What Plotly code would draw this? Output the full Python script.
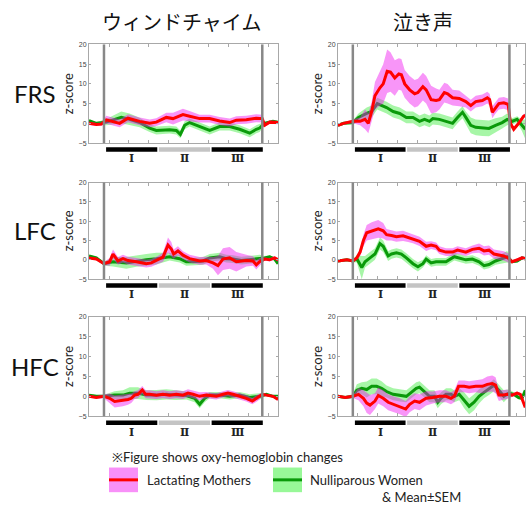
import plotly.graph_objects as go

# ---------------- categories / labels ----------------
col_titles = ["ウィンドチャイム", "泣き声"]
row_labels = ["FRS", "LFC", "HFC"]
phase_labels = ["Ⅰ", "Ⅱ", "Ⅲ"]
phase_start = [0, 10, 20]
phase_end = [10, 20, 30]
stim_on = 0
stim_off = 30
yticks = [-5, 0, 5, 10, 15, 20]
legend_note = "※Figure shows oxy-hemoglobin changes"
legend_red = "Lactating Mothers"
legend_green = "Nulliparous Women"
legend_sem = "& Mean±SEM"

# ---------------- data (time in s, z-score, SEM) ----------------
# FRS - wind chime
frs_wind_red_t = [-2.84, -1.45, -0.5, 0.44, 2.97, 4.55, 6.76, 8.65, 9.92, 11.81, 13.08, 14.97, 16.23, 18.13, 20.03, 21.92, 23.82, 25.08, 26.97, 28.87, 30.0, 30.45, 31.4, 32.98]
frs_wind_red_y = [0.0, -0.3, -0.2, 0.9, 0.0, 1.3, 0.5, 0.0, 0.3, 1.5, 1.2, 2.2, 1.8, 1.2, 1.2, 0.6, 0.2, 0.8, 0.9, 1.3, 1.2, -0.5, 0.3, 0.2]
frs_wind_red_s = [0.4, 0.4, 0.4, 1.0, 1.0, 1.0, 1.0, 1.0, 1.0, 1.2, 1.5, 1.5, 1.3, 1.0, 1.0, 1.0, 1.0, 1.0, 1.0, 1.0, 1.0, 0.4, 0.4, 0.4]
frs_wind_grn_t = [-2.84, -1.45, 0.44, 3.28, 4.86, 6.76, 8.65, 9.92, 12.44, 13.71, 14.47, 15.29, 16.23, 18.13, 20.03, 21.92, 23.82, 25.71, 27.61, 28.87, 29.5, 30.45, 32.03, 32.98]
frs_wind_grn_y = [0.7, 0.0, 0.3, 1.5, 1.0, 0.2, -1.2, -1.8, -1.6, -1.8, -2.8, -0.5, 0.2, -0.8, -1.8, -0.8, -0.8, -1.5, -2.5, -1.5, -1.2, 0.0, 0.5, 0.3]
frs_wind_grn_s = [0.3, 0.3, 0.8, 1.5, 1.5, 1.2, 1.0, 1.0, 1.0, 1.0, 1.0, 1.0, 1.0, 1.0, 1.0, 1.0, 1.0, 1.0, 1.0, 1.0, 1.0, 0.4, 0.3, 0.3]

# FRS - crying
frs_cry_red_t = [-2.85, -1.77, 0, 1.39, 2.34, 2.97, 3.61, 4.24, 5.19, 5.82, 6.58, 7.22, 8.04, 8.8, 9.3, 9.94, 10.89, 11.84, 12.47, 13.42, 14.05, 15.0, 15.95, 16.58, 17.53, 18.16, 19.11, 20.38, 21.65, 22.59, 23.54, 24.81, 25.76, 26.2, 26.71, 27.34, 27.97, 28.92, 29.75, 30.19, 30.82, 31.77, 32.72, 33.04]
frs_cry_red_y = [-0.5, 0, 0.5, 0.5, 1.0, 0.0, 3, 7, 9, 10, 13.2, 13, 11.5, 12.5, 12.3, 10, 8.5, 7.5, 7.8, 9.3, 8.5, 6, 5.8, 6, 7.8, 7.5, 6.5, 6.3, 5.5, 4.5, 5.5, 5.8, 6.5, 6, 2.8, 4, 5, 5.2, 4.8, 0, -1.5, 0, 1.8, 2]
frs_cry_red_s = [0.3, 0.3, 0.5, 1.0, 2.5, 2.5, 2.5, 3.5, 4.5, 5.0, 5.5, 5.0, 4.5, 4.0, 4.0, 3.5, 3.5, 3.5, 3.5, 3.5, 3.5, 3.5, 3.0, 2.5, 2.5, 2.5, 2.0, 2.0, 1.5, 1.5, 1.5, 1.5, 1.5, 1.5, 1.5, 1.5, 1.5, 1.5, 1.5, 0.5, 0.5, 0.5, 0.5, 0.5]
frs_cry_grn_t = [-2.85, -1.77, 0, 1.08, 2.66, 3.61, 4.68, 5.51, 6.46, 7.72, 8.99, 10.25, 11.52, 12.78, 13.73, 14.68, 15.32, 16.58, 17.85, 19.11, 20.06, 21.01, 21.65, 22.59, 23.54, 24.81, 26.08, 27.34, 28.61, 29.56, 30.51, 31.46, 32.41, 33.04]
frs_cry_grn_y = [-0.5, 0, 0.2, 1.5, 2.5, 3, 5, 4.5, 4, 3, 2.5, 1.5, 1.5, 0.5, 1, 0.5, 1.2, 1, 0.5, 0, 1.5, 2.8, 1.5, -0.5, -1, -1.2, -1.3, -0.5, 0.2, 1, 0.5, 1, -0.5, -1.5]
frs_cry_grn_s = [0.3, 0.3, 0.5, 1.0, 1.5, 1.5, 1.5, 1.5, 1.5, 1.5, 1.5, 1.5, 1.5, 1.5, 1.5, 1.5, 1.5, 1.5, 1.5, 1.5, 1.5, 1.5, 1.5, 2.0, 2.0, 2.0, 2.0, 1.8, 1.5, 1.5, 0.8, 0.8, 1.5, 2.5]

# LFC - wind chime
lfc_wind_red_t = [-2.84, -1.45, 0, 1.07, 1.71, 2.65, 3.6, 4.55, 6.13, 8.02, 8.97, 10.23, 11.18, 12.13, 12.76, 13.2, 14.02, 14.97, 16.23, 18.13, 19.39, 20.66, 21.6, 22.55, 23.82, 25.08, 26.97, 28.24, 28.87, 29.5, 30.45, 31.4, 32.34, 32.98]
lfc_wind_red_y = [0.5, 0.2, -1.0, -0.5, 1.5, -0.3, 0.3, -0.2, -0.5, -1, -0.8, 0, 0.7, 3.8, 2.8, 1.5, 2.3, 1.2, 0.3, -0.3, -0.2, -0.8, -1.5, 0.2, 0.5, -0.5, -0.2, -0.3, -1.3, -0.5, 0.2, 0, 0.5, 0]
lfc_wind_red_s = [0.3, 0.3, 0.4, 1.0, 1.2, 1.0, 1.0, 1.0, 1.0, 1.0, 1.0, 1.0, 1.2, 2.0, 1.8, 1.2, 1.2, 1.0, 1.0, 1.0, 1.0, 1.5, 2.5, 2.8, 2.8, 2.5, 1.5, 1.2, 1.2, 1.0, 0.4, 0.4, 0.4, 0.4]
lfc_wind_grn_t = [-2.84, -1.45, 0, 1.71, 4.23, 6.13, 8.02, 9.92, 12.44, 14.34, 15.6, 16.87, 18.76, 20.03, 21.92, 23.18, 24.45, 26.03, 27.61, 29.5, 30.45, 31.4, 32.34, 32.98]
lfc_wind_grn_y = [1, 0.5, -1, -0.5, -0.8, -0.3, 0, 0.3, 0.8, 0.3, -0.5, -0.5, -0.3, 0.5, 0.8, 0.3, 0.2, -0.2, 0, 0.3, 0.5, 0.8, 0.2, -1]
lfc_wind_grn_s = [0.3, 0.3, 0.5, 1.2, 1.5, 1.5, 1.5, 1.5, 1.0, 1.0, 1.0, 1.0, 1.0, 1.0, 1.0, 1.0, 1.0, 1.0, 1.0, 1.0, 0.5, 0.4, 0.4, 0.4]

# LFC - crying
lfc_cry_red_t = [-2.85, -1.14, 0, 0.76, 1.39, 2.03, 2.66, 3.61, 4.87, 5.82, 6.46, 7.41, 8.35, 9.62, 10.57, 11.52, 12.78, 14.05, 15.0, 15.95, 16.58, 17.85, 19.11, 20.06, 21.65, 22.91, 24.18, 25.13, 26.08, 27.03, 27.97, 28.92, 29.75, 30.51, 31.46, 32.41, 33.04]
lfc_cry_red_y = [-0.3, 0, -0.3, 0.5, 2, 5, 7, 7.5, 8, 7.5, 6.5, 6.3, 6, 6.2, 5.8, 5.5, 4.8, 3.5, 3.8, 3.5, 2.5, 2, 2, 2.5, 2, 2.7, 3, 2.3, 2.5, 1.5, 1.2, 1, 0.5, -0.5, 0, 0.5, 0.3]
lfc_cry_red_s = [0.3, 0.3, 0.3, 0.5, 1.0, 1.5, 2.0, 2.2, 2.3, 2.0, 1.5, 1.3, 1.3, 1.3, 1.2, 1.2, 1.2, 1.2, 1.0, 1.0, 1.0, 1.0, 1.0, 1.0, 1.0, 1.0, 1.2, 1.2, 1.2, 1.2, 1.2, 1.2, 1.2, 0.4, 0.4, 0.4, 0.4]
lfc_cry_grn_t = [-2.85, -1.14, 0, 0.76, 1.71, 2.34, 3.29, 4.24, 5.19, 5.82, 6.77, 7.41, 8.35, 9.3, 10.25, 11.52, 12.47, 13.42, 14.05, 15.0, 15.95, 17.85, 19.43, 20.38, 21.65, 22.91, 24.18, 25.13, 26.08, 27.34, 28.61, 29.56, 30.51, 31.46, 32.41, 33.04]
lfc_cry_grn_y = [-0.3, 0, -0.3, 0.3, -2, -0.5, 0.5, 1.5, 4.2, 3.5, 1, 1.5, 1.8, 1.5, 0.5, -1, -1.8, -1, 0.2, -0.8, -0.5, -0.5, 0.8, 0.5, 0, 0.2, -0.5, -1.5, -1.2, -0.3, 0.3, 0.8, -0.5, -0.3, 0.5, 0.3]
lfc_cry_grn_s = [0.3, 0.3, 0.3, 1.0, 3.0, 1.5, 1.5, 1.5, 1.5, 1.5, 1.3, 1.2, 1.2, 1.2, 1.2, 1.2, 1.2, 1.0, 1.0, 1.0, 1.0, 1.0, 1.0, 1.0, 1.0, 1.0, 1.0, 1.0, 1.0, 1.0, 1.2, 1.5, 0.4, 0.4, 0.4, 0.4]

# HFC - wind chime
hfc_wind_red_t = [-2.84, -1.45, 0, 1.07, 2.02, 3.6, 4.55, 5.18, 5.81, 6.44, 7.26, 7.9, 8.65, 9.92, 11.18, 12.44, 13.71, 14.97, 15.92, 16.87, 18.13, 19.39, 21.29, 22.55, 23.5, 24.45, 25.71, 26.97, 28.11, 29.19, 30.0, 30.76, 32.03, 32.98]
hfc_wind_red_y = [0, -0.3, 0, -0.5, -1.3, -1, -0.8, -0.5, 0.3, 0.5, 1.6, 0.5, 0.5, 0.3, 0.5, 0.3, 0.5, 0.3, 0.8, 0.5, 0, 0.3, 0, 0.5, 0.8, 0.5, 0, -0.5, -1.2, -0.3, 0.5, 0.3, 0, -0.8]
hfc_wind_red_s = [0.3, 0.3, 0.5, 1.2, 1.5, 1.5, 1.3, 1.2, 1.0, 1.0, 1.0, 1.0, 1.0, 1.0, 1.0, 1.0, 1.0, 1.0, 1.0, 1.0, 1.0, 0.8, 0.8, 0.8, 0.8, 0.8, 0.8, 0.8, 0.8, 0.8, 0.4, 0.3, 0.3, 0.3]
hfc_wind_grn_t = [-2.84, -1.45, 0, 2.02, 3.6, 4.86, 6.44, 8.02, 9.92, 11.81, 13.71, 15.6, 17.18, 18.13, 19.08, 20.03, 21.92, 23.82, 25.71, 27.61, 29.5, 30.76, 32.03, 32.98]
hfc_wind_grn_y = [0.3, 0, 0, 0.3, 0.3, 0.8, 0.8, 0.3, 0.3, 0.5, 0.3, 0.2, -0.5, -2, -0.5, 0.3, 0.3, 0, 0.3, -0.3, 0, 0.5, 0, 0]
hfc_wind_grn_s = [0.3, 0.3, 0.4, 1.0, 1.2, 1.5, 1.5, 1.2, 1.3, 1.3, 1.2, 1.0, 1.0, 1.0, 1.0, 0.8, 0.8, 0.8, 0.8, 0.8, 0.8, 0.3, 0.3, 0.3]

# HFC - crying
hfc_cry_red_t = [-2.85, -1.46, 0, 1.08, 2.03, 2.66, 3.29, 4.24, 4.87, 5.82, 6.77, 7.72, 8.99, 10.13, 10.89, 11.84, 12.78, 14.05, 15.32, 16.58, 17.85, 18.8, 19.43, 20.25, 21.33, 22.28, 23.54, 24.81, 25.76, 26.71, 27.34, 27.97, 28.61, 29.56, 30.51, 31.46, 32.09, 32.72, 33.04]
hfc_cry_red_y = [0, -0.3, 0, 0.5, -0.5, -1.7, -2.2, -1.2, 0.2, -0.5, -1.5, -2, -2.5, -3.2, -2, -1.2, -1.5, -0.5, -0.3, 0, 0, -0.5, 0, 2.5, 2.5, 2.3, 2.5, 2.5, 3, 3.2, 2.8, 0.3, 0.3, 0.5, 0.3, 0.8, 0.5, -1.5, -2.8]
hfc_cry_red_s = [0.3, 0.3, 0.4, 1.5, 2.0, 2.5, 2.5, 2.0, 2.0, 2.0, 2.0, 2.0, 2.0, 2.0, 2.0, 2.0, 2.0, 1.8, 1.5, 1.5, 1.5, 1.5, 1.5, 1.5, 1.5, 1.5, 1.5, 1.8, 2.0, 2.0, 2.0, 1.5, 1.2, 1.2, 0.4, 0.4, 0.4, 0.4, 0.4]
hfc_cry_grn_t = [-2.85, -1.46, 0, 0.76, 1.71, 2.66, 3.61, 4.56, 5.51, 6.46, 7.72, 8.99, 10.25, 11.2, 12.15, 12.78, 13.73, 14.68, 15.63, 16.27, 16.9, 17.85, 18.8, 19.43, 20.38, 21.33, 22.28, 23.23, 24.18, 25.13, 26.08, 27.03, 27.97, 28.92, 29.87, 30.82, 31.77, 32.41, 33.04]
hfc_cry_grn_y = [0, -0.3, 0, 1.5, 2, 1.7, 2.5, 2.5, 2, 1.2, 0.5, 0.2, 0, 1, 2, 2.3, 1.2, 0, 0, -1.5, -0.5, 0.5, 0.5, 0, 0.5, -1, -2.5, -1.5, 0, 1, 1.8, 2.8, 1.5, 0, 0.8, 0.5, -0.3, -0.5, 1.5]
hfc_cry_grn_s = [0.3, 0.3, 0.5, 1.5, 1.5, 2.0, 2.0, 2.0, 1.8, 1.5, 1.5, 1.5, 1.5, 1.5, 1.5, 1.5, 1.5, 1.5, 1.5, 1.5, 1.5, 1.5, 1.5, 1.5, 1.5, 2.0, 2.0, 2.0, 1.8, 1.5, 1.5, 1.5, 1.5, 1.5, 1.0, 0.5, 0.5, 0.5, 0.5]

panels = [
    (0, 0, frs_wind_red_t, frs_wind_red_y, frs_wind_red_s, frs_wind_grn_t, frs_wind_grn_y, frs_wind_grn_s),
    (0, 1, frs_cry_red_t, frs_cry_red_y, frs_cry_red_s, frs_cry_grn_t, frs_cry_grn_y, frs_cry_grn_s),
    (1, 0, lfc_wind_red_t, lfc_wind_red_y, lfc_wind_red_s, lfc_wind_grn_t, lfc_wind_grn_y, lfc_wind_grn_s),
    (1, 1, lfc_cry_red_t, lfc_cry_red_y, lfc_cry_red_s, lfc_cry_grn_t, lfc_cry_grn_y, lfc_cry_grn_s),
    (2, 0, hfc_wind_red_t, hfc_wind_red_y, hfc_wind_red_s, hfc_wind_grn_t, hfc_wind_grn_y, hfc_wind_grn_s),
    (2, 1, hfc_cry_red_t, hfc_cry_red_y, hfc_cry_red_s, hfc_cry_grn_t, hfc_cry_grn_y, hfc_cry_grn_s),
]

# ---------------- styling / layout ----------------
W, H = 527, 508
RED = "#ff0000"
GREEN = "#0a9a0a"
PINK_FILL = "rgba(240,20,240,0.45)"
GREEN_FILL = "rgba(60,235,60,0.45)"
AX_COLOR = "#a8a8a8"
FONT_LAT = "Lato, 'Noto Sans', 'Noto Sans CJK JP', sans-serif"
FONT_JP = "'Noto Sans CJK JP', sans-serif"

X_DOM = [[89 / W, 278 / W], [338 / W, 525 / W]]
Y_PIX = [(41, 141), (181, 279), (317, 418)]
Y_DOM = [[1 - b / H, 1 - t / H] for t, b in Y_PIX]
XRANGE = [-2.84, 32.98]


def band(t, y, s):
    up = [a + b for a, b in zip(y, s)]
    lo = [a - b for a, b in zip(y, s)]
    return list(t) + list(t)[::-1], up + lo[::-1]


fig = go.Figure()
shapes = []
annotations = []
layout_axes = {}

for i, (r, c, rt, ry, rs, gt, gy, gs) in enumerate(panels):
    assert len(rt) == len(ry) == len(rs), (i, "red")
    assert len(gt) == len(gy) == len(gs), (i, "green")
    n = i + 1
    xa = "x" if n == 1 else f"x{n}"
    ya = "y" if n == 1 else f"y{n}"
    xk = "xaxis" if n == 1 else f"xaxis{n}"
    yk = "yaxis" if n == 1 else f"yaxis{n}"

    bx, by = band(gt, gy, gs)
    fig.add_trace(go.Scatter(x=bx, y=by, fill="toself", fillcolor=GREEN_FILL, line=dict(width=0),
                             mode="lines", hoverinfo="skip", showlegend=False, xaxis=xa, yaxis=ya))
    fig.add_trace(go.Scatter(x=gt, y=gy, mode="lines", line=dict(color=GREEN, width=3),
                             showlegend=False, xaxis=xa, yaxis=ya))
    bx, by = band(rt, ry, rs)
    fig.add_trace(go.Scatter(x=bx, y=by, fill="toself", fillcolor=PINK_FILL, line=dict(width=0),
                             mode="lines", hoverinfo="skip", showlegend=False, xaxis=xa, yaxis=ya))
    fig.add_trace(go.Scatter(x=rt, y=ry, mode="lines", line=dict(color=RED, width=3),
                             showlegend=False, xaxis=xa, yaxis=ya))

    layout_axes[xk] = dict(domain=X_DOM[c], range=XRANGE, anchor=ya, showgrid=False, zeroline=False,
                           showline=True, linecolor=AX_COLOR, linewidth=1, mirror="ticks",
                           ticks="inside", ticklen=3, tickcolor=AX_COLOR, tick0=0.95, dtick=3.79,
                           showticklabels=False, fixedrange=True)
    layout_axes[yk] = dict(domain=Y_DOM[r], range=[-5, 20], anchor=xa, showgrid=False, zeroline=False,
                           showline=True, linecolor=AX_COLOR, linewidth=1, mirror="ticks",
                           ticks="inside", ticklen=2, tickcolor=AX_COLOR, tickvals=yticks,
                           tickfont=dict(size=7, color="#444444", family="Liberation Sans"),
                           title=dict(text="z-score", font=dict(size=13, color="#222222", family=FONT_LAT),
                                      standoff=2),
                           fixedrange=True)

    # stimulus on/off lines
    for xv in (stim_on, stim_off):
        shapes.append(dict(type="line", xref=xa, yref=f"{ya} domain", x0=xv, x1=xv, y0=0, y1=1,
                           line=dict(color="#888888", width=2.5), layer="above"))

    # phase bars and numerals
    bottom = Y_DOM[r][0]
    for k, (p0, p1, lab) in enumerate(zip(phase_start, phase_end, phase_labels)):
        colr = "#c4c4c4" if k == 1 else "#000000"
        shapes.append(dict(type="line", xref=xa, yref="paper", x0=p0 + 0.4, x1=p1 + 0.1,
                           y0=bottom - 6.5 / H, y1=bottom - 6.5 / H, line=dict(color=colr, width=4.5)))
        annotations.append(dict(xref=xa, yref="paper", x=(p0 + p1) / 2 + 0.3, y=bottom - 16 / H,
                                text="<b>" + lab + "</b>", showarrow=False, xanchor="center", yanchor="middle",
                                font=dict(size=11, color="#222222", family="'DejaVu Serif', 'Liberation Serif', serif")))

# column titles
for c, txt in enumerate(col_titles):
    cx = [181.5, 422.5][c] / W
    annotations.append(dict(xref="paper", yref="paper", x=cx, y=1 - 18 / H, text=txt, showarrow=False,
                            xanchor="center", yanchor="middle", font=dict(size=20, color="#111111", family=FONT_JP)))
# row labels
for r, txt in enumerate(row_labels):
    cy = 1 - (Y_PIX[r][0] + Y_PIX[r][1]) / 2 / H
    annotations.append(dict(xref="paper", yref="paper", x=35 / W, y=cy, text=txt, showarrow=False,
                            xanchor="center", yanchor="middle", font=dict(size=24, color="#111111", family=FONT_LAT)))

# legend (drawn manually)
annotations.append(dict(xref="paper", yref="paper", x=110 / W, y=1 - 459 / H, text=legend_note, showarrow=False,
                        xanchor="left", yanchor="middle", font=dict(size=13, color="#222222", family=FONT_LAT)))
for x0, fillc, linec, txt, tx in [(109, "#f890f8", RED, legend_red, 145), (273, "#98f898", GREEN, legend_green, 308)]:
    shapes.append(dict(type="rect", xref="paper", yref="paper", x0=x0 / W, x1=(x0 + 29) / W,
                       y0=1 - 495 / H, y1=1 - 470 / H, fillcolor=fillc, line=dict(width=0)))
    shapes.append(dict(type="line", xref="paper", yref="paper", x0=x0 / W, x1=(x0 + 29) / W,
                       y0=1 - 482.5 / H, y1=1 - 482.5 / H, line=dict(color=linec, width=3)))
    annotations.append(dict(xref="paper", yref="paper", x=tx / W, y=1 - 482.5 / H, text=txt, showarrow=False,
                            xanchor="left", yanchor="middle", font=dict(size=13, color="#222222", family=FONT_LAT)))
annotations.append(dict(xref="paper", yref="paper", x=380 / W, y=1 - 499.5 / H, text=legend_sem, showarrow=False,
                        xanchor="left", yanchor="middle", font=dict(size=13, color="#222222", family=FONT_LAT)))

fig.update_layout(width=W, height=H, margin=dict(l=0, r=0, t=0, b=0), paper_bgcolor="white",
                  plot_bgcolor="white", showlegend=False, shapes=shapes, annotations=annotations,
                  **layout_axes)

fig.write_html("out.html", config={"displayModeBar": False},
               post_script="document.body.style.margin='0';document.body.style.overflow='hidden';")
